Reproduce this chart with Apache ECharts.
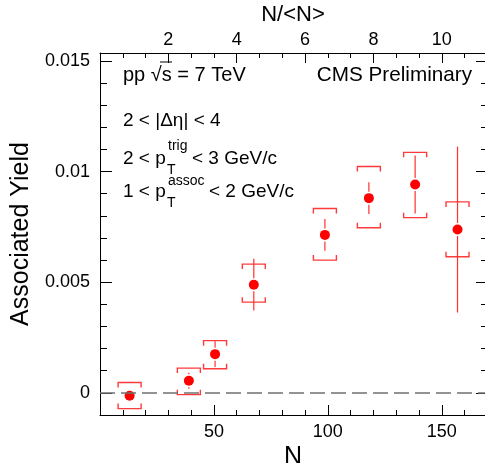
<!DOCTYPE html>
<html>
<head>
<meta charset="utf-8">
<script src="https://cdn.jsdelivr.net/npm/echarts@6/dist/echarts.min.js"></script>
<style>html,body{margin:0;padding:0;background:#fff;}#c{width:485px;height:463px;}</style>
</head>
<body>
<div id="c"></div>
<script>
// ---- data ----
const multiplicityN = [13, 39, 50.5, 67.5, 98.7, 118, 138.3, 156.9];
const assocYield    = [-0.00013, 0.00055, 0.00175, 0.00489, 0.00714, 0.0088, 0.00942, 0.00738];
const statError     = [0.0002, 0.00036, 0.00058, 0.00117, 0.00072, 0.00072, 0.00131, 0.00375];
const sysLow        = [-0.00071, -0.00008, 0.00109, 0.0041, 0.0060, 0.00746, 0.00792, 0.00615];
const sysHigh       = [0.00047, 0.00112, 0.00236, 0.00582, 0.00833, 0.01023, 0.01087, 0.00863];
const meanN = 15;
const xRange = [0, 169.4];
const yRange = [-0.001, 0.01536];
const yMajorTicks = [0, 0.005, 0.01, 0.015];

const FONT = 'Liberation Sans, Arial, sans-serif';
const chart = echarts.init(document.getElementById('c'), null, {renderer: 'canvas'});

const points = multiplicityN.map((n, i) => [n, assocYield[i], statError[i], sysLow[i], sysHigh[i]]);

function tickAxis(base, tickLen) { return Object.assign({
  type: 'value', splitLine: {show: false},
  axisLine: {show: false, onZero: false}, axisLabel: {show: false},
  axisTick: {inside: true, length: tickLen || 5, lineStyle: {color: '#000', width: 1}}
}, base); }

const option = {
  animation: false,
  backgroundColor: '#fff',
  grid: {left: 100, right: -1, top: 53, bottom: 48, containLabel: false, outerBoundsMode: 'none'},
  xAxis: [
    {type: 'value', position: 'bottom', min: xRange[0], max: xRange[1], interval: 50,
     splitLine: {show: false},
     axisLine: {show: true, onZero: false, lineStyle: {color: '#000', width: 1}},
     axisTick: {inside: true, length: 10, lineStyle: {color: '#000', width: 1}},
     axisLabel: {color: '#000', fontSize: 18, fontFamily: FONT, margin: 8,
       formatter: v => (v === 0 || v > 160) ? '' : String(v)},
     name: 'N', nameLocation: 'middle', nameGap: 30, nameMoveOverlap: false,
     nameTextStyle: {color: '#000', fontSize: 25, fontFamily: FONT}},
    tickAxis({position: 'bottom', min: xRange[0], max: xRange[1], interval: 10}),
    {type: 'value', position: 'top', min: xRange[0] / meanN, max: xRange[1] / meanN, interval: 2,
     splitLine: {show: false},
     axisLine: {show: true, onZero: false, lineStyle: {color: '#000', width: 1}},
     axisTick: {inside: true, length: 10, lineStyle: {color: '#000', width: 1}},
     axisLabel: {color: '#000', fontSize: 18, fontFamily: FONT, margin: 4,
       formatter: v => (v === 0 || v > 10.5) ? '' : String(v)},
     name: 'N/<N>', nameLocation: 'middle', nameGap: 27, nameMoveOverlap: false,
     nameTextStyle: {color: '#000', fontSize: 22, fontFamily: FONT}},
    tickAxis({position: 'top', min: xRange[0] / meanN, max: xRange[1] / meanN, interval: 2 / 3})
  ],
  yAxis: [
    {type: 'value', position: 'left', min: yRange[0], max: yRange[1],
     splitLine: {show: false},
     axisLine: {show: true, onZero: false, lineStyle: {color: '#000', width: 1}},
     axisTick: {inside: true, length: 12, customValues: yMajorTicks, lineStyle: {color: '#000', width: 1}},
     axisLabel: {customValues: yMajorTicks, color: '#000', fontSize: 18, fontFamily: FONT, margin: 10,
       formatter: v => String(+v.toFixed(4))},
     name: 'Associated Yield', nameLocation: 'middle', nameGap: 66, nameMoveOverlap: false,
     nameTextStyle: {color: '#000', fontSize: 25, fontFamily: FONT}},
    tickAxis({position: 'left', min: yRange[0], max: yRange[1], interval: 0.001}, 7),
    {type: 'value', position: 'right', min: yRange[0], max: yRange[1],
     splitLine: {show: false},
     axisLine: {show: true, onZero: false, lineStyle: {color: '#000', width: 1}},
     axisTick: {inside: true, length: 10, customValues: yMajorTicks, lineStyle: {color: '#000', width: 1}},
     axisLabel: {show: false}},
    tickAxis({position: 'right', min: yRange[0], max: yRange[1], interval: 0.001})
  ],
  series: [
    {
      type: 'custom', xAxisIndex: 0, yAxisIndex: 0, z: 3, silent: true,
      data: points,
      renderItem: function (params, api) {
        const x = api.value(0), y = api.value(1), se = api.value(2), lo = api.value(3), hi = api.value(4);
        const p = api.coord([x, y]);
        const pt = api.coord([x, y + se]);
        const pb = api.coord([x, y - se]);
        const sh = api.coord([x, hi]);
        const sl = api.coord([x, lo]);
        const hw = 11.5, serif = 5, r = 5, gap = 1.5;
        const sysStyle = {stroke: '#ff3a3a', lineWidth: 1.4, fill: null};
        const statStyle = {stroke: '#ff3030', lineWidth: 1.2};
        const ch = [
          {type: 'polyline', shape: {points: [[p[0] - hw, sh[1] + serif], [p[0] - hw, sh[1]], [p[0] + hw, sh[1]], [p[0] + hw, sh[1] + serif]]}, style: sysStyle},
          {type: 'polyline', shape: {points: [[p[0] - hw, sl[1] - serif], [p[0] - hw, sl[1]], [p[0] + hw, sl[1]], [p[0] + hw, sl[1] - serif]]}, style: sysStyle}
        ];
        if (pt[1] < p[1] - r - gap) ch.push({type: 'line', shape: {x1: p[0], y1: pt[1], x2: p[0], y2: p[1] - r - gap}, style: statStyle});
        if (pb[1] > p[1] + r + gap) ch.push({type: 'line', shape: {x1: p[0], y1: p[1] + r + gap, x2: p[0], y2: pb[1]}, style: statStyle});
        return {type: 'group', children: ch};
      }
    },
    {
      type: 'scatter', xAxisIndex: 0, yAxisIndex: 0, z: 4, silent: true,
      symbol: 'circle', symbolSize: 10,
      itemStyle: {color: '#ff0000', opacity: 1},
      data: points.map(d => [d[0], d[1]]),
      markLine: {
        silent: true, symbol: ['none', 'none'], animation: false,
        label: {show: false},
        lineStyle: {type: [15, 6], color: '#707070', width: 1.5},
        data: [{yAxis: 0}]
      }
    }
  ],
  graphic: [
    {type: 'text', left: 123, top: 65, style: {text: 'pp √s = 7 TeV', fill: '#000', font: '20px ' + FONT}},
    {type: 'line', shape: {x1: 160, y1: 62, x2: 172, y2: 62}, style: {stroke: '#000', lineWidth: 1}},
    {type: 'text', right: 13, top: 65, style: {text: 'CMS Preliminary', fill: '#000', font: '20.7px ' + FONT}},
    {type: 'text', left: 123, top: 111, style: {text: '2 < |Δη| < 4', fill: '#000', font: '19px ' + FONT}},
    {type: 'text', left: 123, top: 149, style: {text: '2 < p', fill: '#000', font: '19px ' + FONT}},
    {type: 'text', left: 168, top: 139, style: {text: 'trig', fill: '#000', font: '14px ' + FONT}},
    {type: 'text', left: 167, top: 163, style: {text: 'T', fill: '#000', font: '14px ' + FONT}},
    {type: 'text', left: 192, top: 149, style: {text: '< 3 GeV/c', fill: '#000', font: '19px ' + FONT}},
    {type: 'text', left: 123, top: 182, style: {text: '1 < p', fill: '#000', font: '19px ' + FONT}},
    {type: 'text', left: 168, top: 174, style: {text: 'assoc', fill: '#000', font: '14px ' + FONT}},
    {type: 'text', left: 167, top: 196, style: {text: 'T', fill: '#000', font: '14px ' + FONT}},
    {type: 'text', left: 209, top: 182, style: {text: '< 2 GeV/c', fill: '#000', font: '19px ' + FONT}}
  ]
};
chart.setOption(option);
</script>
</body>
</html>
